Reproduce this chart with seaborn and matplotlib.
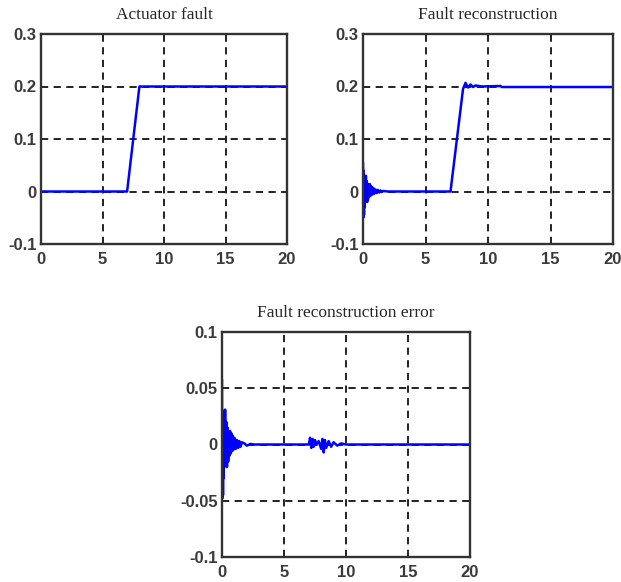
import matplotlib
matplotlib.use("Agg")
import matplotlib.pyplot as plt
import seaborn as sns
import pandas as pd

# ---- data ----
fault_t = [0, 7.0, 8.0, 20]
fault_v = [0, 0, 0.2, 0.2]

recon_t = [0, 0.02, 0.05, 0.08, 0.10, 0.13, 0.16, 0.20, 0.23, 0.26, 0.30, 0.33, 0.36,
           0.40, 0.45, 0.50, 0.55, 0.60, 0.65, 0.70, 0.75, 0.80, 0.85, 0.90, 1.0, 1.1,
           1.2, 1.3, 1.4, 1.5, 1.6, 1.8, 2.0, 2.2, 7.0, 8.0, 8.2, 8.4, 8.6, 8.8, 9.0,
           9.5, 11.0, 11.1, 20]
recon_v = [0.055, -0.05, 0.04, -0.045, 0.03, -0.03, 0.02, -0.02, 0.03, -0.015, 0.02,
           -0.02, 0.015, -0.015, 0.012, -0.01, 0.014, -0.008, 0.01, -0.006, 0.008,
           -0.005, 0.006, -0.004, 0.004, -0.003, 0.003, -0.002, 0.002, -0.001, 0.001,
           0.0005, 0, 0, 0, 0.195, 0.207, 0.198, 0.204, 0.199, 0.202, 0.2, 0.201,
           0.199, 0.199]

err_t = [0, 0.02, 0.05, 0.08, 0.10, 0.13, 0.16, 0.20, 0.25, 0.30, 0.35, 0.40, 0.45,
         0.50, 0.55, 0.60, 0.65, 0.70, 0.75, 0.80, 0.85, 0.90, 1.0, 1.1, 1.2, 1.3,
         1.4, 1.5, 1.6, 1.8, 2.0, 2.3, 2.6, 7.0, 7.1, 7.2, 7.3, 7.4, 7.5, 7.6, 7.8,
         8.0, 8.1, 8.2, 8.3, 8.4, 8.6, 8.8, 9.0, 9.3, 9.6, 10.0, 20]
err_v = [0.058, -0.048, 0.03, -0.045, 0.02, -0.03, 0.015, -0.02, 0.031, -0.015,
         0.02, -0.02, 0.015, -0.015, 0.012, -0.01, 0.012, -0.008, 0.01, -0.006,
         0.008, -0.005, 0.006, -0.004, 0.004, -0.003, 0.003, -0.002, 0.002, 0.001,
         -0.001, 0.0005, 0, 0, 0.006, -0.003, 0.005, -0.002, 0.004, 0.0, 0.003,
         -0.004, 0.005, -0.007, 0.004, -0.003, 0.003, -0.002, 0.002, -0.001, 0.001,
         0, 0]

titles = ["Actuator fault", "Fault reconstruction", "Fault reconstruction error"]
x_ticks = [0, 5, 10, 15, 20]
y_ticks_top = [-0.1, 0, 0.1, 0.2, 0.3]
y_labels_top = ["-0.1", "0", "0.1", "0.2", "0.3"]
y_ticks_bot = [-0.1, -0.05, 0, 0.05, 0.1]
y_labels_bot = ["-0.1", "-0.05", "0", "0.05", "0.1"]

sns.set_style("white")
plt.rcParams["font.family"] = ["Liberation Sans", "DejaVu Sans"]

W, H = 621, 582
fig = plt.figure(figsize=(W / 100, H / 100), dpi=100)

def rect(x0, y0, x1, y1):
    return [x0 / W, 1 - y1 / H, (x1 - x0) / W, (y1 - y0) / H]

ax1 = fig.add_axes(rect(41, 34, 287, 244))
ax2 = fig.add_axes(rect(363, 34, 613, 244))
ax3 = fig.add_axes(rect(222, 332, 470, 557))

panels = [
    (ax1, fault_t, fault_v, y_ticks_top, y_labels_top, (-0.1, 0.3)),
    (ax2, recon_t, recon_v, y_ticks_top, y_labels_top, (-0.1, 0.3)),
    (ax3, err_t, err_v, y_ticks_bot, y_labels_bot, (-0.1, 0.1)),
]

for (ax, t, v, yt, yl, ylim), title in zip(panels, titles):
    df = pd.DataFrame({"t": t, "v": v})
    sns.lineplot(data=df, x="t", y="v", ax=ax, color="#0000ff", linewidth=1.8,
                 estimator=None, sort=False)
    ax.set_xlim(0, 20)
    ax.set_ylim(*ylim)
    ax.set_xticks(x_ticks)
    ax.set_xticklabels([str(x) for x in x_ticks])
    ax.set_yticks(yt)
    ax.set_yticklabels(yl)
    ax.set_xlabel("")
    ax.set_ylabel("")
    ax.grid(True, color="#111111", linestyle=(0, (4, 3)), linewidth=1.3)
    ax.set_axisbelow(True)
    for s in ax.spines.values():
        s.set_visible(True)
        s.set_color("#333333")
        s.set_linewidth(1.7)
    ax.tick_params(direction="in", length=3, width=1, colors="#333333",
                   labelsize=12, pad=6)
    ax.tick_params(axis="y", pad=3)
    for lab in ax.get_xticklabels() + ax.get_yticklabels():
        lab.set_fontweight("bold")
        lab.set_color("#3a3a3a")
    ax.set_title(title, fontsize=12.5, family="Liberation Serif", pad=11)

fig.savefig("out.png", dpi=100)
